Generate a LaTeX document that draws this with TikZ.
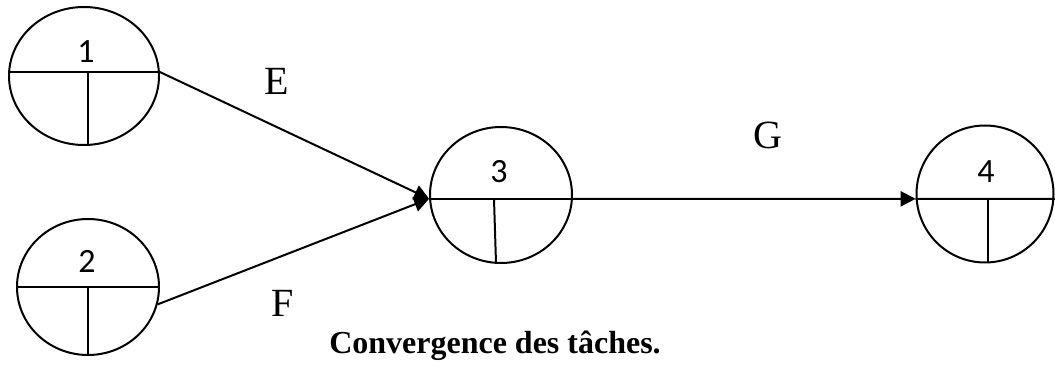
\documentclass[tikz,border=0pt]{standalone}
\usepackage{fontspec}
\setmainfont{Liberation Serif}
\newfontfamily\numfont{Carlito}
\usetikzlibrary{arrows.meta,shapes.geometric}

\begin{document}
\begin{tikzpicture}[x=0.5pt,y=-0.5pt,line width=1pt,
    evt/.style={draw, ellipse, inner sep=0pt},
    num/.style={anchor=base, font=\numfont\fontsize{17}{20}\selectfont},
    lab/.style={anchor=base, font=\fontsize{20}{24}\selectfont},
    act/.style={-{Triangle[length=7.5pt,width=7.5pt]}}]
    \useasboundingbox (0,0) rectangle (1055,379);
    % Events (circles)
    \node[evt, minimum width=75pt, minimum height=69pt] (n1) at (84,76) {};
    \node[evt, minimum width=71pt, minimum height=68pt] (n2) at (88,287) {};
    \node[evt, minimum width=71pt, minimum height=68pt] (n3) at (501,195) {};
    \node[evt, minimum width=68.5pt, minimum height=68.5pt] (n4) at (985,194) {};
    \coordinate (edge4) at (1055,199);
    % Dividers
    \draw (n1.177) -- (n1.3);
    \draw (88,72) -- (88,145);
    \draw (n2.west) -- (n2.east);
    \draw (88,287) -- (88,355);
    \draw (n3.183) -- (n3.-3);
    \draw (494,199) -- (496,263);
    \draw (n4.184) -- (edge4);
    \draw (988,199) -- (988,262);
    % Numbers
    \node[num] (t1) at (86,63) {1};
    \node[num] (t2) at (87,273) {2};
    \node[num] (t3) at (499,183) {3};
    \node[num] (t4) at (986,183) {4};
    % Tasks
    \draw[act] (n1.3) -- (n3.183);
    \draw[act] (n2.-14) -- (n3.183);
    \draw[act] (n3.-3) -- (n4.184);
    \node[lab] (e) at (277,95) {E};
    \node[lab] (f) at (283,316) {F};
    \node[lab] (g) at (768,149) {G};
    % Caption
    \node[anchor=base, font=\bfseries\fontsize{16}{19}\selectfont] (cap) at (495,353) {Convergence des tâches.};
\end{tikzpicture}
\end{document}
